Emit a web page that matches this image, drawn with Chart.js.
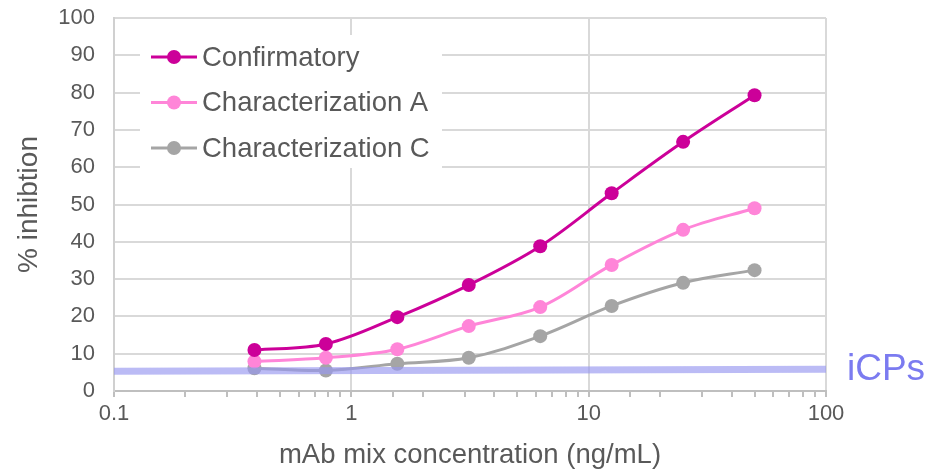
<!DOCTYPE html>
<html>
<head>
<meta charset="utf-8">
<script src="https://cdn.jsdelivr.net/npm/chart.js@4"></script>
<style>
  html, body { margin: 0; padding: 0; background: #fff; }
  #wrap { width: 927px; height: 472px; }
</style>
</head>
<body>
<div id="wrap"><canvas id="myChart" width="927" height="472"></canvas></div>
<script>
// mAb mix concentrations (ng/mL), two-fold dilutions
var concentrations = [0.390625, 0.78125, 1.5625, 3.125, 6.25, 12.5, 25, 50];
var confirmatory = [11, 12.6, 19.8, 28.4, 38.8, 53, 66.8, 79.3];
var characterizationA = [7.9, 8.9, 11.2, 17.4, 22.5, 33.8, 43.2, 49];
var characterizationC = [6.1, 5.5, 7.3, 8.9, 14.7, 22.8, 29, 32.4];
// iCPs threshold band
var icpsX = [0.1, 100];
var icpsY = [5.3, 5.8];
var xTickLabels = [0.1, 1, 10, 100];

var seriesNames = ['Confirmatory', 'Characterization A', 'Characterization C'];
var seriesColors = ['#cc0099', '#ff85d8', '#a5a5a5'];
var textColor = '#595959';
var font = 'Liberation Sans, Arial, sans-serif';

function pts(xs, ys) {
    return xs.map(function (x, i) { return { x: x, y: ys[i] }; });
}

function series(i, values) {
    return {
        label: seriesNames[i],
        data: pts(concentrations, values),
        borderColor: seriesColors[i],
        backgroundColor: seriesColors[i],
        borderWidth: 3,
        pointRadius: 7,
        pointBorderWidth: 0,
        tension: 0.35,
        order: 2
    };
}

// legend drawn inside the plot, on a white box over the grid
var insideLegend = {
    id: 'insideLegend',
    beforeDatasetsDraw: function (chart) {
        var c = chart.ctx, a = chart.chartArea;
        c.save();
        c.fillStyle = '#fff';
        c.fillRect(a.left + 26, a.top + 17, 302, 133);
        c.font = '27.5px ' + font;
        c.textBaseline = 'middle';
        for (var i = 0; i < seriesNames.length; i++) {
            var y = a.top + 39 + i * 45.5;
            c.strokeStyle = seriesColors[i];
            c.lineWidth = 3;
            c.beginPath();
            c.moveTo(a.left + 37, y);
            c.lineTo(a.left + 83, y);
            c.stroke();
            c.fillStyle = seriesColors[i];
            c.beginPath();
            c.arc(a.left + 60, y, 7, 0, Math.PI * 2);
            c.fill();
            c.fillStyle = textColor;
            c.fillText(seriesNames[i], a.left + 88, y + 1);
        }
        c.restore();
    },
    afterDraw: function (chart) {
        var c = chart.ctx, a = chart.chartArea;
        var y = chart.scales.y.getPixelForValue(icpsY[1]);
        c.save();
        c.font = '37px ' + font;
        c.fillStyle = '#7b7bf0';
        c.textBaseline = 'middle';
        c.fillText('iCPs', a.right + 21, y);
        c.restore();
    }
};

var ctx = document.getElementById('myChart').getContext('2d');
var myChart = new Chart(ctx, {
    type: 'line',
    data: {
        datasets: [
            {
                label: 'iCPs',
                data: pts(icpsX, icpsY),
                borderColor: 'rgba(150, 150, 240, 0.65)',
                borderWidth: 7,
                pointRadius: 0,
                tension: 0,
                order: 1
            },
            series(0, confirmatory),
            series(1, characterizationA),
            series(2, characterizationC)
        ]
    },
    options: {
        responsive: false,
        animation: false,
        layout: {
            autoPadding: false,
            padding: { left: 0, right: 101, top: 18, bottom: 0 }
        },
        plugins: {
            legend: { display: false },
            tooltip: { enabled: false }
        },
        scales: {
            x: {
                type: 'logarithmic',
                min: 0.1,
                max: 100,
                afterFit: function (s) {
                    s.height = 472 - 391;
                    s.paddingLeft = 0;
                    s.paddingRight = 0;
                },
                border: { color: '#bfbfbf', width: 2 },
                grid: {
                    color: function (c) {
                        var v = c.tick && c.tick.value;
                        return xTickLabels.indexOf(v) >= 0 ? '#d9d9d9' : 'rgba(0,0,0,0)';
                    },
                    lineWidth: 2,
                    tickColor: '#bfbfbf',
                    tickLength: 6
                },
                ticks: {
                    autoSkip: false,
                    maxRotation: 0,
                    padding: 4,
                    color: textColor,
                    font: { family: font, size: 22 },
                    callback: function (v) {
                        return xTickLabels.indexOf(v) >= 0 ? String(v) : '';
                    }
                },
                title: {
                    display: true,
                    text: 'mAb mix concentration (ng/mL)',
                    color: textColor,
                    font: { family: font, size: 27.5 },
                    padding: { top: 4, bottom: 0 }
                }
            },
            y: {
                min: 0,
                max: 100,
                afterFit: function (s) {
                    s.width = 114;
                    s.paddingTop = 0;
                    s.paddingBottom = 0;
                },
                border: { color: '#d0d0d0', width: 2 },
                grid: {
                    color: '#d9d9d9',
                    lineWidth: 2,
                    drawTicks: false
                },
                ticks: {
                    stepSize: 10,
                    padding: 19,
                    color: textColor,
                    font: { family: font, size: 22 }
                },
                title: {
                    display: true,
                    text: '% inhibtion',
                    color: textColor,
                    font: { family: font, size: 28 },
                    padding: { top: 12, bottom: 0 }
                }
            }
        }
    },
    plugins: [insideLegend]
});
</script>
</body>
</html>
